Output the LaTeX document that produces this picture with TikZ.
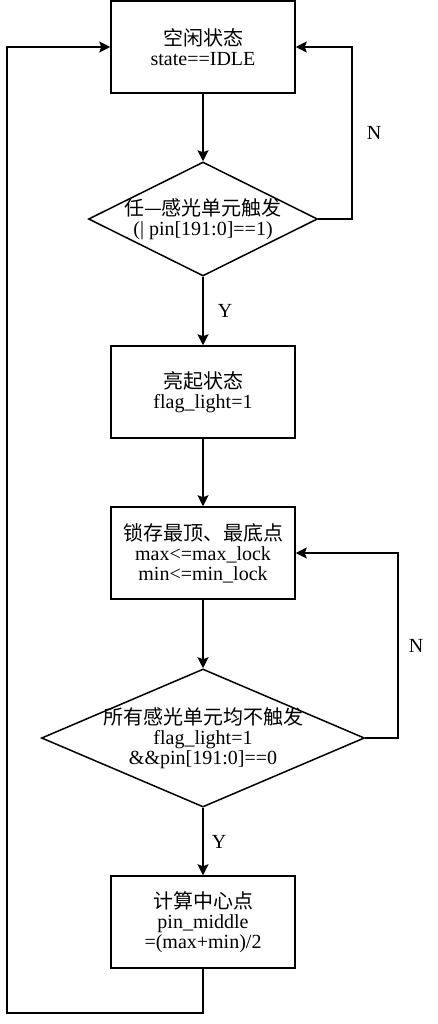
\documentclass[tikz,border=0pt]{standalone}
\usepackage{fontspec}
\setmainfont{Liberation Serif}
\newfontfamily\zhfont{Noto Sans CJK SC}
\usetikzlibrary{positioning,shapes.geometric,arrows.meta}
\begin{document}
\begin{tikzpicture}[%
x=1pt,y=-1pt,
tilstand/.style={draw,line width=1.5pt,minimum width=184pt,minimum height=92pt,align=center,inner sep=0pt},
valg/.style={draw,diamond,line width=1.5pt,align=center,inner sep=-3pt},
pil/.style={line width=1.5pt,-{Stealth[length=11pt,width=11pt,inset=2pt]}},
svar/.style={inner sep=0pt},
node font=\fontsize{20}{20}\selectfont]
\useasboundingbox (0,0) rectangle (437,1024);
\node [tilstand] (idle)  at (203,47)  {{\zhfont 空闲状态}\\state==IDLE};
\node [valg,aspect=2,minimum width=229pt,minimum height=114pt] (trig) at (203,219)
	{{\zhfont 任—感光单元触发}\\(| pin[191:0]==1)};
\node [tilstand] (light) at (203,392) {{\zhfont 亮起状态}\\flag\_light=1};
\node [tilstand] (lock)  at (203,553) {{\zhfont 锁存最顶、最底点}\\max<=max\_lock\\min<=min\_lock};
\node [valg,aspect=2.34,minimum width=320pt,minimum height=137pt] (none) at (203,738)
	{{\zhfont 所有感光单元均不触发}\\flag\_light=1\\\&\&pin[191:0]==0};
\node [tilstand] (calc)  at (203,922) {{\zhfont 计算中心点}\\pin\_middle\\=(max+min)/2};
\coordinate (hoyre1) at (352,219);
\coordinate (hoyre2) at (398,738);
\coordinate (bunn)   at (7,1013);
\draw [pil] (idle)  -- (trig);
\draw [pil] (trig.east) -- (hoyre1) |- node[svar,pos=0.25,right=14pt] {N} (idle.east);
\draw [pil] (trig)  -- node[svar,midway,right=14pt] {Y} (light);
\draw [pil] (light) -- (lock);
\draw [pil] (lock)  -- (none);
\draw [pil] (none.east) -- (hoyre2) |- node[svar,pos=0.25,right=10pt] {N} (lock.east);
\draw [pil] (none)  -- node[svar,midway,right=8pt] {Y} (calc);
\draw [pil] (calc.south) |- (bunn) |- (idle.west);
\end{tikzpicture}
\end{document}
